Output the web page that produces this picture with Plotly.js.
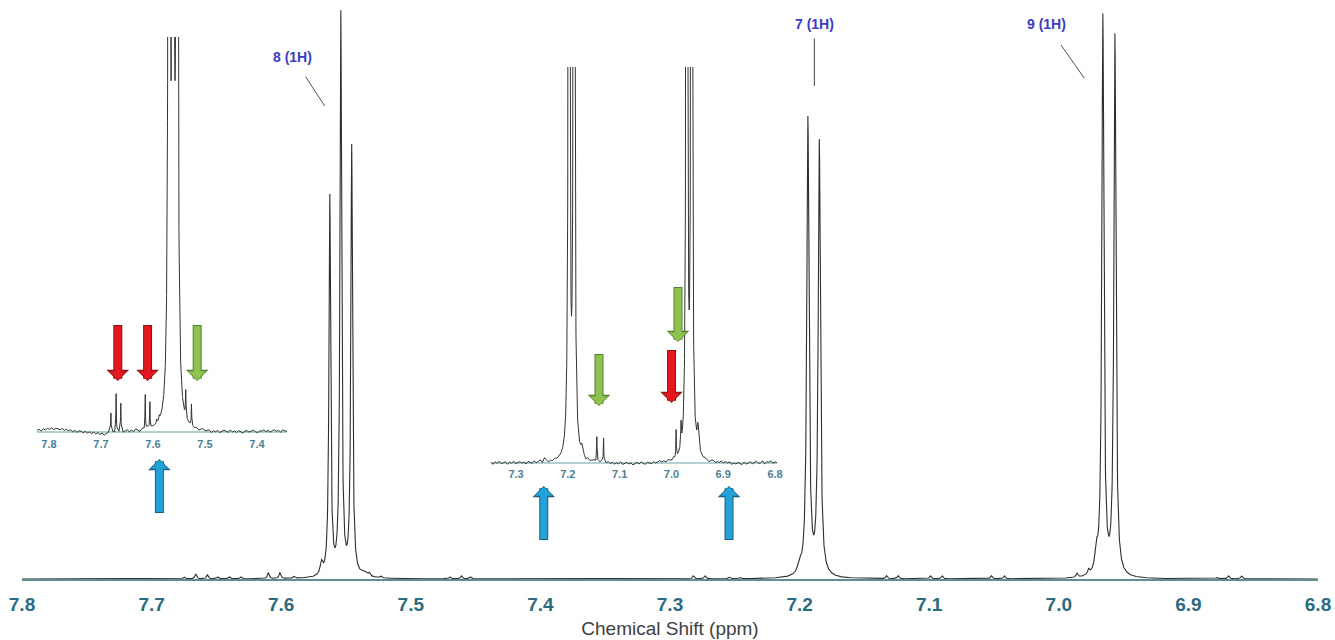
<!DOCTYPE html>
<html><head><meta charset="utf-8">
<script src="https://cdn.plot.ly/plotly-3.0.1.min.js"></script>
<style>html,body{margin:0;padding:0;background:#fff;}#chart{width:1335px;height:640px;}</style>
</head><body><div id="chart"></div>
<script>
// ---------- main spectrum: peak table (ppm, height, half-width ppm) ----------
const mainPeakPpm = [7.675,7.666,7.657,7.649,7.640,7.631,7.610,7.601,7.590,
  7.5689,7.5625,7.5540,7.5456,7.536,7.532,7.523,
  7.470,7.461,7.454,7.282,7.273,7.254,7.246,
  7.2000,7.1936,7.1848,7.133,7.124,7.099,7.090,7.052,7.042,
  6.986,6.977,6.9710,6.9660,6.9567,6.878,6.869,6.859];
const mainPeakHeight = [2,5,4,2,2,2,6,6,2,
  12,379,562,429,4,3,2,
  2,3,2,3,3,1.5,1.5,
  10,457,434,3,3,3,3,3,3,
  4,5,20,559,540,1.5,3,3];
const mainPeakWidth = [0.0008,0.0008,0.0008,0.0008,0.0008,0.0008,0.0008,0.0008,0.0008,
  0.0012,0.00077,0.00077,0.00077,0.003,0.0008,0.0008,
  0.0008,0.0008,0.0008,0.0008,0.0008,0.0008,0.0008,
  0.0015,0.001,0.001,0.0008,0.0008,0.0008,0.0008,0.0008,0.0008,
  0.0008,0.0008,0.0012,0.00093,0.00093,0.0008,0.0008,0.0008];

// ---------- inset 1 (7.8 - 7.4 ppm, vertically expanded) ----------
const inset1PeakPpm    = [7.681,7.671,7.662,7.615,7.606,7.593,7.588,7.5692,7.5615,7.5538,7.537,7.526];
const inset1PeakHeight = [19,39,29,36,27,4,4,3200,3200,3200,27,22];
const inset1PeakWidth  = [0.0005,0.0005,0.0005,0.0005,0.0005,0.0008,0.0008,0.0009,0.0009,0.0009,0.0006,0.0005];
const inset1Noise = [1.5,2.5,1,3,2,3.5,2.5,4,2,3.5,3,2,3.5,1.5,2.5,
  1,2,0,1.5,-0.5,1,0.5,-1,0.5,-1.5,0,-2,-0.5,-2.5,-1,
  -3,-1.5,-3.5,-2,-1,-2.5,-0.5,-2,0,-1,0.5,-1.5,0,1,-1,
  0.5,-1,1.5,0,-1.5,1,-0.5,0.5,1.5,-1,0.5,0,-1,1,0.5,
  -0.5,1,0,-1,0.5,1.5,-0.5,0,1,-1,0.5,1.5,0,-1,1,
  -0.5,0.5,-1.5,0,1,-1,-0.5,0.5,-2,0,-1,0.5,-1.5,-0.5,1,
  0,-1,1.5,-0.5,0.5,-1,1,0,-1.5,0.5,1,-0.5,0.5,1.5,0,
  -1,1,0.5,2,0,1.5,-0.5,1,2,0.5,1.5,-0.5,2,1,0.5];
const inset1TickVals = [7.8,7.7,7.6,7.5,7.4];

// ---------- inset 2 (7.3 - 6.8 ppm, vertically expanded) ----------
const inset2PeakPpm    = [7.252,7.245,7.1977,7.1880,7.173,7.144,7.131,6.991,6.9815,6.9705,6.9610,6.9487,6.898,6.889];
const inset2PeakHeight = [5,4,2200,2200,9,25,24,27,24,2200,2200,25,5,5];
const inset2PeakWidth  = [0.0005,0.0005,0.0009,0.0009,0.002,0.0005,0.0005,0.0005,0.0008,0.0009,0.0009,0.002,0.0005,0.0005];
const inset2Noise = [0.5,-1.5,1,-0.5,1.5,-1,0,1,-1.5,0.5,-0.5,1.5,-1,0,
  1,-0.5,0.5,-1.5,1,0,-1,1.5,-0.5,0.5,1,-1,0,1.5,
  -1,0.5,-0.5,1,0,-1.5,0.5,1,-0.5,0,1.5,-1,0.5,-0.5,
  1,-1,0,0.5,-1.5,1,-0.5,0,1,-1,0.5,-0.5,1.5,0,
  -1,0.5,-1.5,0,-2,-0.5,-1.5,0.5,-2,-1,0,-1.5,-0.5,-2.5,
  -1,0,-1.5,0.5,-1,-2,0,-0.5,-1.5,0.5,-1,0,1,-0.5,
  0.5,-1,1,0,-0.5,1.5,-1,0.5,0,-1.5,1,-0.5,0.5,1,
  -1,0,1.5,-0.5,0.5,-1,1,0,-1.5,0.5,1,-1,0,-0.5,
  1,-1.5,0.5,-1,0,-2,-0.5,-1.5,0,-1,-2,0.5,-1.5,-0.5,
  1,-1,0.5,1.5,-0.5,0,2,-1,1,0.5,2,-0.5,1,0];
const inset2TickVals = [7.3,7.2,7.1,7.0,6.9,6.8];

const mainTickVals = [7.8,7.7,7.6,7.5,7.4,7.3,7.2,7.1,7.0,6.9,6.8];
const peakLabels = ['8 (1H)','7 (1H)','9 (1H)'];

// ---------- lineshapes ----------
function lor(x,P,H,W){let s=0;for(let k=0;k<P.length;k++){const d=(x-P[k])/W[k];s+=H[k]/(1+d*d);}return s;}

function mainLine(x0,x1,step){
  const xs=[],ys=[];const m=Math.round(Math.abs(x1-x0)/step);
  for(let j=0;j<=m;j++){const x=x0+(x1-x0)*j/m;xs.push(x);ys.push(lor(x,mainPeakPpm,mainPeakHeight,mainPeakWidth));}
  return {xs,ys};
}
function insetLine(x0,x1,noise,P,H,W,step,T){
  const pts=[];const n=noise.length;
  for(let i=0;i<n;i++){const x=x0+(x1-x0)*i/(n-1);const L=lor(x,P,H,W);if(L<T)pts.push([x,L+noise[i]]);}
  const m=Math.round(Math.abs(x1-x0)/step);
  for(let j=0;j<=m;j++){const x=x0+(x1-x0)*j/m;const L=lor(x,P,H,W);if(L>=T)pts.push([x,L]);}
  pts.sort((a,b)=>b[0]-a[0]);
  return {xs:pts.map(p=>p[0]),ys:pts.map(p=>p[1])};
}

const M=mainLine(7.8,6.8,0.0001);
const I1=insetLine(7.8231,7.3423,inset1Noise,inset1PeakPpm,inset1PeakHeight,inset1PeakWidth,0.0002,6);
const I2=insetLine(7.3483,6.7962,inset2Noise,inset2PeakPpm,inset2PeakHeight,inset2PeakWidth,0.0002,6);

const traces=[
  {x:M.xs,y:M.ys,type:'scatter',mode:'lines',line:{color:'#2e2e2e',width:1.1},xaxis:'x',yaxis:'y',hoverinfo:'skip'},
  {x:I1.xs,y:I1.ys,type:'scatter',mode:'lines',line:{color:'#333333',width:1},xaxis:'x2',yaxis:'y2',hoverinfo:'skip'},
  {x:I2.xs,y:I2.ys,type:'scatter',mode:'lines',line:{color:'#333333',width:1},xaxis:'x3',yaxis:'y3',hoverinfo:'skip'}
];

// ---------- annotations ----------
const ann=[];
function blockArrow(xref,yref,x,y,ay,fill,edge){
  const s = ay<0?-1:1;
  ann.push({xref,yref,x,y,ax:0,ay:ay+s*1,text:' ',font:{size:1},showarrow:true,arrowhead:1,arrowwidth:9,arrowsize:0.42,arrowcolor:edge,borderpad:0});
  ann.push({xref,yref,x,y,ax:0,ay:ay,text:' ',font:{size:1},showarrow:true,arrowhead:1,arrowwidth:7,arrowsize:0.42,arrowcolor:fill,borderpad:0,standoff:1});
}
const RED='#e3191f',REDE='#8e1414',GRN='#8fc24f',GRNE='#56802c',BLU='#22a2d8',BLUE='#1a5f85';
// inset 1
blockArrow('x2','y2',7.6677,51,-56,RED,REDE);
blockArrow('x2','y2',7.6104,51,-56,RED,REDE);
blockArrow('x2','y2',7.5150,51,-56,GRN,GRNE);
blockArrow('x2','y',7.5877,120,54,BLU,BLUE);
// inset 2
blockArrow('x3','y3',7.1398,57,-52,GRN,GRNE);
blockArrow('x3','y3',6.9998,60,-53,RED,REDE);
blockArrow('x3','y3',6.9873,121,-55,GRN,GRNE);
blockArrow('x3','y',7.2465,93,54,BLU,BLUE);
blockArrow('x3','y',6.8888,93,54,BLU,BLUE);

const labFont={family:'Liberation Sans, Arial, sans-serif',size:14,color:'#3b3bc4',weight:'bold'};
ann.push({xref:'x',yref:'y',x:7.5664,y:473,ax:-32,ay:-49,text:peakLabels[0],font:labFont,showarrow:true,arrowhead:0,arrowwidth:1,arrowcolor:'#555',startstandoff:12});
ann.push({xref:'x',yref:'y',x:7.1886,y:493,ax:0,ay:-62,text:peakLabels[1],font:labFont,showarrow:true,arrowhead:0,arrowwidth:1,arrowcolor:'#444',startstandoff:5});
ann.push({xref:'x',yref:'y',x:6.9804,y:501,ax:-38,ay:-54,text:peakLabels[2],font:labFont,showarrow:true,arrowhead:0,arrowwidth:1,arrowcolor:'#555',startstandoff:14});

const fr=v=>v.toFixed(1);
const insetTickFont={family:'Liberation Sans, Arial, sans-serif',size:11,color:'#4d8196',weight:'bold'};
const layout={
  width:1335,height:640,margin:{l:22,r:17,t:0,b:61},
  paper_bgcolor:'#fff',plot_bgcolor:'rgba(0,0,0,0)',showlegend:false,
  xaxis:{domain:[0,1],range:[7.8,6.8],showgrid:false,zeroline:false,showline:true,linecolor:'#5f8f8f',linewidth:1.5,
    ticks:'',tickmode:'array',tickvals:mainTickVals,ticktext:mainTickVals.map(fr),ticklabelstandoff:8,
    tickfont:{family:'Liberation Sans, Arial, sans-serif',size:19,color:'#2d6b7e',weight:'bold'},
    title:{text:'Chemical Shift (ppm)',font:{family:'Liberation Sans, Arial, sans-serif',size:19,color:'#404040'},standoff:7}},
  yaxis:{range:[0,579],visible:false,fixedrange:true},
  xaxis2:{domain:[0.011574,0.204475],range:[7.8231,7.3423],anchor:'free',position:0.25389,showgrid:false,zeroline:false,showline:false,
    ticks:'',tickmode:'array',tickvals:inset1TickVals,ticktext:inset1TickVals.map(fr),ticklabelstandoff:4,tickfont:insetTickFont},
  yaxis2:{domain:[0.23661,0.93610],range:[-10,395],anchor:'x2',showgrid:false,showticklabels:false,showline:false,ticks:'',
    zeroline:true,zerolinecolor:'#b3d1d3',zerolinewidth:1.2},
  xaxis3:{domain:[0.36188,0.58256],range:[7.3483,6.7962],anchor:'free',position:0.20035,showgrid:false,zeroline:false,showline:false,
    ticks:'',tickmode:'array',tickvals:inset2TickVals,ticktext:inset2TickVals.map(fr),ticklabelstandoff:3,tickfont:insetTickFont},
  yaxis3:{domain:[0.18307,0.88428],range:[-10,396],anchor:'x3',showgrid:false,showticklabels:false,showline:false,ticks:'',
    zeroline:true,zerolinecolor:'#b3d1d3',zerolinewidth:1.2},
  annotations:ann
};
Plotly.newPlot('chart',traces,layout,{displayModeBar:false,staticPlot:true});
</script></body></html>
